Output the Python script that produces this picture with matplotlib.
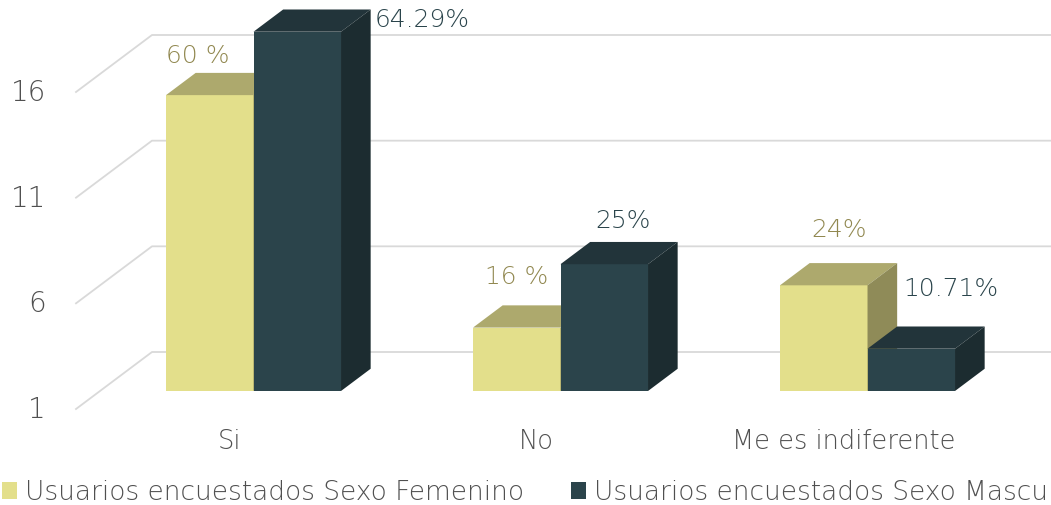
import numpy as np
import matplotlib.pyplot as plt
from matplotlib.patches import Polygon

categories = ['Si', 'No', 'Me es indiferente']
femenino = [15, 4, 6]
masculino = [18, 7, 3]
fem_labels = ['60 %', '16 %', '24%']
mas_labels = ['64.29%', '25%', '10.71%']
y_ticks = [1, 6, 11, 16]
series_names = ['Usuarios encuestados Sexo Femenino', 'Usuarios encuestados Sexo Masculino']

# label offsets in pixels (manually placed in the original)
fem_off = [(-12, 18), (0, 29), (15, 34)]
mas_off = [(125, -10), (19, 22), (40, 38)]

fem_cols = ('#E3DF8B', '#ADA96D', '#8F8B58')
mas_cols = ('#2B444B', '#22343A', '#1C2C30')
txt_col = '#505050'
grid_col = '#D9D9D9'
plt.rcParams['font.weight'] = 'light'

W, H = 1051, 506
px_cat = 307.0
px_val = 317.0 / 15
DX = 76 / px_cat     # full depth in category units
DY = 57 / px_val     # full depth in value units
d0 = 0.316           # bar front plane depth
bd = 0.39            # bar depth
w = 87.5 / px_cat    # bar width

fig = plt.figure(figsize=(W / 100, H / 100), dpi=100)
ax = fig.add_axes([0, 0, 1, 1])
ax.set_xlim(-0.5 - 76 / px_cat, -0.5 + (W - 76) / px_cat)
ax.set_ylim(1 - (H - 410) / px_val, 1 + 410 / px_val)
ax.axis('off')

xmax = ax.get_xlim()[1]
for v in y_ticks:
    ax.plot([-0.5, -0.5 + DX, xmax + 1], [v, v + DY, v + DY], color=grid_col, lw=1.3, zorder=1)
    ax.annotate(str(v), (-0.5, v), xytext=(-30, 0), textcoords='offset pixels',
                ha='right', va='center', fontsize=20, color=txt_col)

x = np.arange(len(categories))
for i, c in enumerate(categories):
    ax.annotate(c, (i, 1), xytext=(0, -32), textcoords='offset pixels',
                ha='center', va='center', fontsize=18.5, color=txt_col)


def bar3d(xl, v, cols, label):
    b = 1 + d0 * DY
    t = v + d0 * DY
    ax.bar(xl, v - 1, width=w, bottom=b, align='edge', color=cols[0],
           zorder=2, label=label)
    ax.add_patch(Polygon([(xl, t), (xl + w, t), (xl + w + bd * DX, t + bd * DY),
                          (xl + bd * DX, t + bd * DY)], closed=True,
                         facecolor=cols[1], edgecolor='none', zorder=2))
    ax.add_patch(Polygon([(xl + w, b), (xl + w, t), (xl + w + bd * DX, t + bd * DY),
                          (xl + w + bd * DX, b + bd * DY)], closed=True,
                         facecolor=cols[2], edgecolor='none', zorder=2))
    return xl + w / 2, t + bd * DY


for i in range(len(categories)):
    xc = x[i] + d0 * DX
    cx, ty = bar3d(xc - w, femenino[i], fem_cols, series_names[0] if i == 0 else None)
    ax.annotate(fem_labels[i], (cx, ty), xytext=fem_off[i], textcoords='offset pixels',
                ha='center', va='center', fontsize=18, color='#918850')
    cx, ty = bar3d(xc, masculino[i], mas_cols, series_names[1] if i == 0 else None)
    ax.annotate(mas_labels[i], (cx, ty), xytext=mas_off[i], textcoords='offset pixels',
                ha='center', va='center', fontsize=18, color='#2A444B')

leg = ax.legend(loc='center left', bbox_to_anchor=(2 / W, 13 / H), bbox_transform=fig.transFigure,
                ncol=2, frameon=False, fontsize=19, handlelength=0.57, handleheight=0.6,
                handletextpad=0.3, columnspacing=1.78, borderpad=0, borderaxespad=0)
for t in leg.get_texts():
    t.set_color(txt_col)

fig.savefig('out.png', dpi=100)
